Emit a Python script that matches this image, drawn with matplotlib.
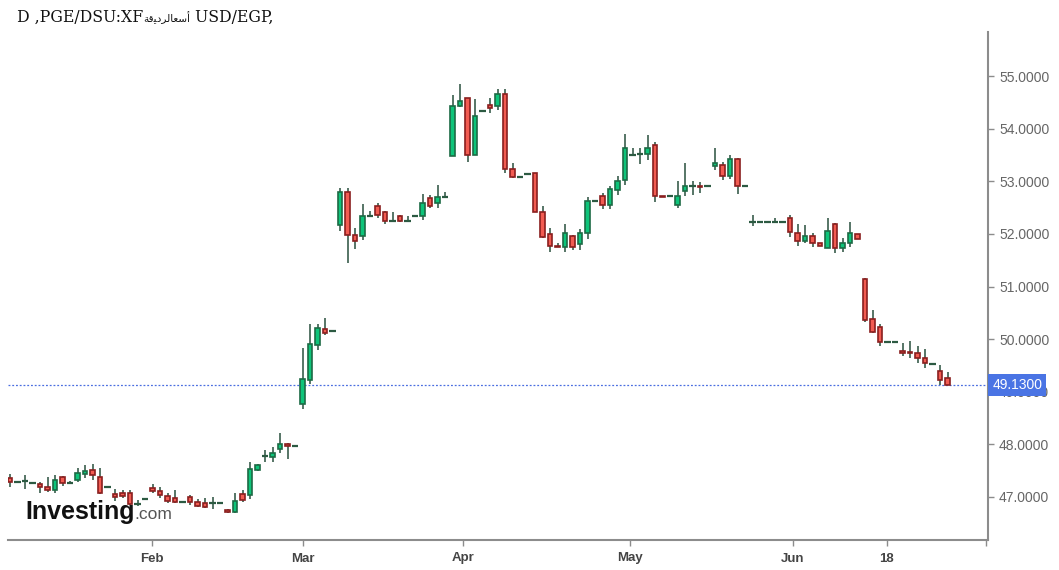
import numpy as np
import matplotlib
matplotlib.use("Agg")
from matplotlib import pyplot as plt

# daily candles, USD/EGP
opens = [47.35, 47.29, 47.30, 47.26, 47.24, 47.18, 47.13, 47.37, 47.26, 47.32,
         47.44, 47.51, 47.37, 47.19, 47.05, 47.08, 47.07, 46.86, 46.96, 47.16,
         47.12, 47.02, 46.97, 46.91, 47.00, 46.91, 46.88, 46.88, 46.88, 46.75,
         46.71, 47.05, 47.04, 47.51, 47.78, 47.75, 47.91, 48.00, 47.97, 48.77,
         49.22, 49.89, 50.19, 50.15, 52.17, 52.79, 51.98, 51.96, 52.34, 52.53,
         52.41, 52.24, 52.34, 52.24, 52.34, 52.34, 52.68, 52.58, 52.71, 53.48,
         54.43, 54.58, 53.50, 54.34, 54.46, 54.43, 54.67, 53.23, 53.09, 53.14,
         53.15, 52.41, 51.99, 51.77, 51.75, 51.96, 51.80, 52.01, 52.62, 52.72,
         52.55, 52.83, 53.02, 53.51, 53.52, 53.52, 53.70, 52.72, 52.72, 52.55,
         52.81, 52.92, 52.92, 52.91, 53.30, 53.32, 53.10, 53.42, 52.91, 52.22,
         52.22, 52.22, 52.22, 52.22, 52.30, 52.01, 51.86, 51.96, 51.82, 51.73,
         52.18, 51.73, 51.82, 51.99, 51.14, 50.38, 50.23, 49.95, 49.95, 49.78,
         49.76, 49.73, 49.64, 49.53, 49.40, 49.26]
highs = [47.43, 47.31, 47.42, 47.29, 47.29, 47.37, 47.42, 47.39, 47.31, 47.54,
         47.60, 47.62, 47.54, 47.19, 47.15, 47.14, 47.14, 46.94, 46.96, 47.24,
         47.19, 47.07, 47.13, 46.91, 47.04, 46.96, 46.97, 46.99, 46.88, 46.77,
         47.08, 47.14, 47.67, 47.62, 47.90, 47.94, 48.21, 48.02, 47.97, 49.83,
         50.29, 50.29, 50.40, 50.15, 52.87, 52.87, 52.11, 52.56, 52.43, 52.58,
         52.44, 52.42, 52.36, 52.34, 52.34, 52.76, 52.74, 52.93, 52.80, 54.64,
         54.85, 54.58, 54.56, 54.34, 54.58, 54.75, 54.75, 53.34, 53.09, 53.14,
         53.15, 52.54, 52.11, 51.82, 52.18, 51.98, 52.09, 52.71, 52.62, 52.78,
         52.91, 53.10, 53.90, 53.63, 53.63, 53.88, 53.75, 52.72, 52.72, 53.01,
         53.34, 53.01, 52.99, 52.91, 53.63, 53.37, 53.51, 53.44, 52.91, 52.36,
         52.22, 52.22, 52.30, 52.22, 52.36, 52.19, 52.17, 52.01, 51.82, 52.30,
         52.20, 51.92, 52.23, 51.99, 51.16, 50.55, 50.29, 49.95, 49.95, 49.93,
         49.96, 49.86, 49.81, 49.53, 49.51, 49.38]
lows = [47.19, 47.27, 47.15, 47.26, 47.08, 47.09, 47.08, 47.21, 47.26, 47.29,
        47.35, 47.32, 47.06, 47.19, 46.92, 46.97, 46.85, 46.83, 46.96, 47.07,
        46.97, 46.88, 46.88, 46.91, 46.85, 46.80, 46.78, 46.77, 46.88, 46.69,
        46.69, 46.91, 46.96, 47.50, 47.67, 47.67, 47.84, 47.72, 47.97, 48.67,
        49.15, 49.79, 50.08, 50.15, 52.06, 51.45, 51.71, 51.88, 52.34, 52.30,
        52.19, 52.24, 52.22, 52.23, 52.34, 52.26, 52.50, 52.50, 52.71, 53.48,
        54.41, 53.37, 53.50, 54.34, 54.30, 54.35, 53.15, 53.06, 53.09, 53.14,
        52.41, 51.92, 51.66, 51.75, 51.66, 51.69, 51.69, 51.90, 52.62, 52.47,
        52.47, 52.74, 52.93, 53.51, 53.33, 53.40, 52.61, 52.70, 52.72, 52.50,
        52.72, 52.74, 52.78, 52.91, 53.21, 53.02, 53.04, 52.76, 52.91, 52.16,
        52.22, 52.22, 52.22, 52.22, 51.95, 51.77, 51.82, 51.75, 51.78, 51.73,
        51.63, 51.65, 51.75, 51.90, 50.33, 50.11, 49.86, 49.95, 49.95, 49.67,
        49.65, 49.55, 49.46, 49.53, 49.13, 49.13]
closes = [47.28, 47.29, 47.30, 47.26, 47.18, 47.13, 47.33, 47.26, 47.26, 47.45,
          47.50, 47.42, 47.07, 47.19, 46.99, 47.02, 46.86, 46.86, 46.96, 47.11,
          47.04, 46.92, 46.90, 46.91, 46.91, 46.83, 46.80, 46.88, 46.88, 46.71,
          46.93, 46.94, 47.53, 47.60, 47.78, 47.83, 48.00, 47.97, 47.97, 49.24,
          49.90, 50.21, 50.11, 50.15, 52.79, 51.98, 51.86, 52.34, 52.34, 52.36,
          52.24, 52.24, 52.24, 52.24, 52.34, 52.58, 52.53, 52.70, 52.71, 54.43,
          54.52, 53.50, 54.24, 54.34, 54.39, 54.67, 53.23, 53.08, 53.09, 53.14,
          52.41, 51.95, 51.77, 51.75, 52.01, 51.75, 52.01, 52.62, 52.62, 52.55,
          52.85, 53.00, 53.63, 53.51, 53.52, 53.63, 52.72, 52.70, 52.72, 52.72,
          52.91, 52.92, 52.89, 52.91, 53.34, 53.10, 53.42, 52.91, 52.91, 52.22,
          52.22, 52.22, 52.22, 52.22, 52.03, 51.86, 51.96, 51.82, 51.78, 52.05,
          51.73, 51.82, 52.01, 51.90, 50.36, 50.13, 49.94, 49.95, 49.95, 49.74,
          49.73, 49.64, 49.54, 49.53, 49.22, 49.13]

last_price = 49.13
x_ticks = [18.9, 39.1, 60.4, 82.7, 104.4, 116.9, 130.1]
x_labels = ['Feb', 'Mar', 'Apr', 'May', 'Jun', '18', '']
y_ticks = [47, 48, 49, 50, 51, 52, 53, 54, 55]

o = np.array(opens)
h = np.array(highs)
l = np.array(lows)
c = np.array(closes)
x = np.arange(len(o))

up_col, up_edge = '#0ec47a', '#1d6b45'
dn_col, dn_edge = '#f25c52', '#8a1f1f'
wick_col = '#3a5e4d'

fig = plt.figure(figsize=(10.59, 5.70), dpi=100)
ax = fig.add_axes([8/1059, 1-540/570, 980/1059, 508/570])

# wicks
ax.vlines(x, l, h, color=wick_col, linewidth=1.2, zorder=2)

# bodies
doji = o == c
up = (c > o)
dn = (c < o)
ax.bar(x[up], (c - o)[up], bottom=o[up], width=0.62, color=up_col,
       edgecolor=up_edge, linewidth=1.2, zorder=3)
ax.bar(x[dn], (o - c)[dn], bottom=c[dn], width=0.62, color=dn_col,
       edgecolor=dn_edge, linewidth=1.2, zorder=3)
ax.hlines(o[doji], x[doji] - 0.42, x[doji] + 0.42, color='#2c5a42',
          linewidth=1.6, zorder=3)

# last price line
ax.axhline(last_price, color='#4a6ee0', linestyle=(0, (1.5, 1.5)), linewidth=0.9, zorder=1)

ax.set_xlim(-0.27, 130.4)
ax.set_ylim(46.18, 55.84)

for s in ['top', 'left']:
    ax.spines[s].set_visible(False)
for s in ['right', 'bottom']:
    ax.spines[s].set_color('#8c8c8c')
    ax.spines[s].set_linewidth(1.5)

ax.yaxis.tick_right()
ax.set_yticks(y_ticks)
ax.set_yticklabels(['%.4f' % v for v in y_ticks])
ax.tick_params(axis='y', direction='out', length=4, width=1, color='#8c8c8c',
               labelcolor='#666666', labelsize=10, pad=4)
for lab in ax.get_yticklabels():
    lab.set_fontfamily('Liberation Sans')

ax.set_xticks(x_ticks)
ax.set_xticklabels(x_labels)
ax.tick_params(axis='x', direction='out', length=4, width=1, color='#8c8c8c',
               labelcolor='#444444', labelsize=9.5, pad=5)
for lab in ax.get_xticklabels():
    lab.set_fontfamily('Liberation Sans')
    lab.set_fontweight('bold')

# price tag on the right axis (covers the 49.0000 label, as in the reference)
ax.annotate('%.4f' % last_price, xy=(1.0, last_price),
            xycoords=('axes fraction', 'data'), xytext=(3, 0),
            textcoords='offset points', ha='left', va='center',
            color='white', fontsize=10, family='Liberation Sans',
            zorder=10, annotation_clip=False,
            bbox=dict(boxstyle='square,pad=0.3', fc='#4a74e4', ec='none'))

# title, drawn in three runs so the Arabic part can be a bit smaller
fig.canvas.draw()
r = fig.canvas.get_renderer()
ty = 1 - 22/570
t1 = fig.text(17/1059, ty, 'D ,PGE/DSU:XF', family='DejaVu Serif',
              fontsize=11.3, va='baseline', ha='left', color='#111111')
x1 = t1.get_window_extent(r).x1
ar = '\ufe94\ufed7\ufef4\ufea9\ufeae\ufedf\ufe8e\ufecc\ufeb3\ufe83'
t2 = fig.text(x1/1059, ty, ar, family='DejaVu Sans', fontsize=7.5,
              va='baseline', ha='left', color='#111111')
x2 = t2.get_window_extent(r).x1
fig.text(x2/1059, ty, ' USD/EGP,', family='DejaVu Serif', fontsize=11.3,
         va='baseline', ha='left', color='#111111')

# logo
logo = fig.text(25/1059, 1-519/570, 'Investing', family='Liberation Sans',
                fontweight='bold', fontsize=18, color='#111111', va='baseline')
bb = logo.get_window_extent(r)
fig.text(bb.x1/1059, 1-519/570, '.com', family='Liberation Sans',
         fontsize=12.5, color='#555555', va='baseline')

fig.savefig('out.png', dpi=100)
